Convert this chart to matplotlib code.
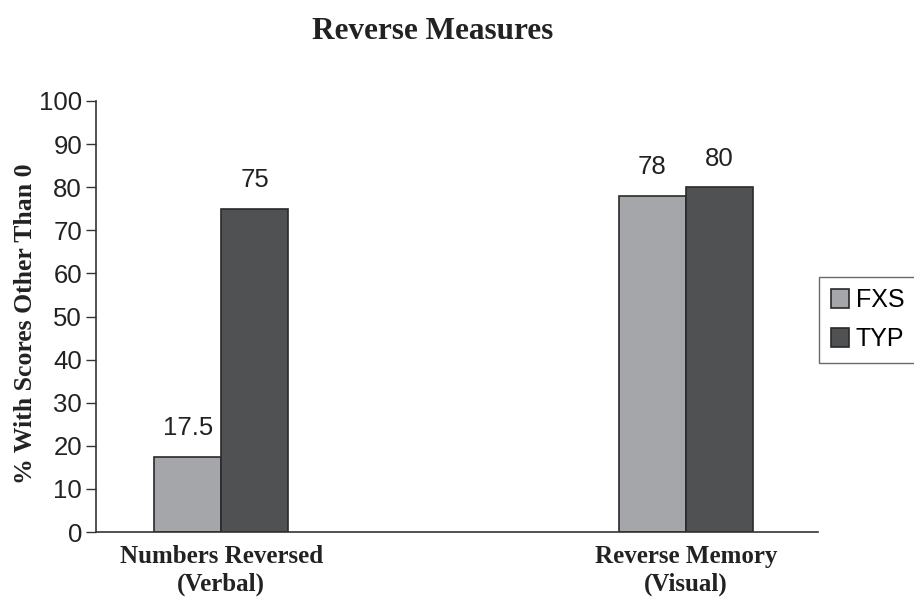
import matplotlib
matplotlib.use("Agg")
import matplotlib.pyplot as plt
import numpy as np

categories = ["Numbers Reversed\n(Verbal)", "Reverse Memory\n(Visual)"]
series_names = ["FXS", "TYP"]
fxs_values = [17.5, 78]
typ_values = [75, 80]
value_labels_fxs = ["17.5", "78"]
value_labels_typ = ["75", "80"]
y_ticks = [0, 10, 20, 30, 40, 50, 60, 70, 80, 90, 100]

colors = {"FXS": "#a5a6aa", "TYP": "#505153"}
edge = "#2a2a2a"
sans = ["Liberation Sans", "DejaVu Sans"]
serif = ["Liberation Serif", "DejaVu Serif"]

fig = plt.figure(figsize=(9.14, 6.0), dpi=100)
ax = fig.add_axes([0.105, 0.1133, 0.79, 0.7184])

x = np.arange(len(categories))
w = 0.144
b1 = ax.bar(x - w / 2, fxs_values, w, color=colors["FXS"], edgecolor=edge,
            linewidth=1.2, label="FXS")
b2 = ax.bar(x + w / 2, typ_values, w, color=colors["TYP"], edgecolor=edge,
            linewidth=1.2, label="TYP")

for bars, labels in ((b1, value_labels_fxs), (b2, value_labels_typ)):
    for rect, lab in zip(bars, labels):
        ax.annotate(lab, (rect.get_x() + rect.get_width() / 2, rect.get_height()),
                    xytext=(0, 12), textcoords="offset points", ha="center",
                    va="bottom", fontsize=18.5, family=sans, color="#222222")

ax.set_xlim(-0.27, 1.285)
ax.set_ylim(0, 100)
ax.set_yticks(y_ticks)
ax.set_yticklabels([str(t) for t in y_ticks], family=sans, fontsize=18.5, color="#222222")
ax.set_xticks(x)
ax.set_xticklabels(categories, family=serif, fontweight="bold", fontsize=18,
                   color="#222222", linespacing=1.3)
ax.tick_params(axis="x", length=0, pad=9)
ax.tick_params(axis="y", length=7, width=1, color="#333333", pad=3)

for s in ("top", "right"):
    ax.spines[s].set_visible(False)
for s in ("left", "bottom"):
    ax.spines[s].set_color("#333333")
    ax.spines[s].set_linewidth(1.2)

ax.set_ylabel("% With Scores Other Than 0", family=serif, fontweight="bold",
              fontsize=18.5, color="#222222", labelpad=0)
ax.yaxis.set_label_coords(-0.081, 0.483)

fig.text(0.473, 0.948, "Reverse Measures", ha="center", va="center", family=serif,
         fontweight="bold", fontsize=22.5, color="#222222")

leg = fig.legend(handles=[b1, b2], labels=series_names, loc="center left",
                 bbox_to_anchor=(0.891, 0.467), prop={"family": sans, "size": 18},
                 frameon=True, fancybox=False, handlelength=0.75, handleheight=0.75,
                 handletextpad=0.25, borderpad=0.45, labelspacing=0.6,
                 borderaxespad=0.2)
leg.get_frame().set_edgecolor("#444444")
leg.get_frame().set_linewidth(1.0)

fig.savefig("out.png", dpi=100, facecolor="white")
